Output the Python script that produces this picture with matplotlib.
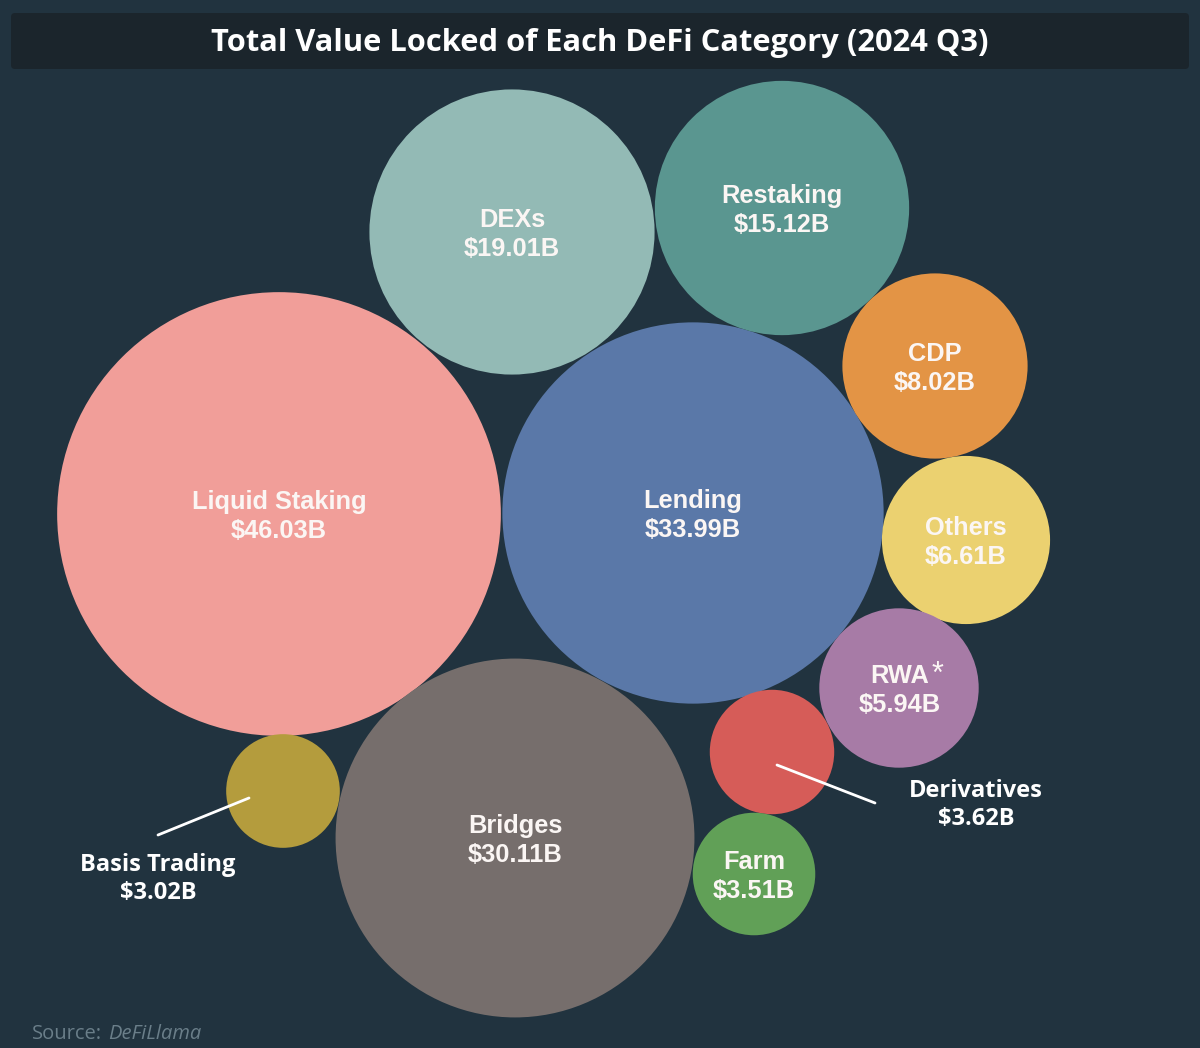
import matplotlib
matplotlib.use("Agg")
import matplotlib.pyplot as plt
from matplotlib.patches import Circle, FancyBboxPatch
import numpy as np

# ---- data ----
categories = ["Liquid Staking", "Lending", "Bridges", "DEXs", "Restaking", "CDP",
              "Others", "RWA", "Derivatives", "Farm", "Basis Trading"]
values = [46.03, 33.99, 30.11, 19.01, 15.12, 8.02, 6.61, 5.94, 3.62, 3.51, 3.02]
value_labels = ["$46.03B", "$33.99B", "$30.11B", "$19.01B", "$15.12B", "$8.02B",
                "$6.61B", "$5.94B", "$3.62B", "$3.51B", "$3.02B"]

# ---- layout / style ----
centers = [(279, 514), (693, 513), (515, 838), (512, 232), (782, 208), (935, 366),
           (966, 540), (899, 688), (772, 752), (754, 874), (283, 791)]
colors = ["#F19E99", "#5A78A8", "#766E6C", "#93BAB5", "#5A9690", "#E39445",
          "#EBD170", "#A77BA6", "#D65C58", "#61A057", "#B49C3D"]
outside = {"Derivatives": ((976, 805), (777, 765), (875, 803)),
           "Basis Trading": ((158, 879), (249, 798), (158, 835))}
SCALE = 32.7  # pixels per sqrt(billion)

BG = "#21333F"
W, H = 1200, 1048
fig = plt.figure(figsize=(W / 100, H / 100), dpi=100, facecolor=BG)
ax = fig.add_axes([0, 0, 1, 1])
ax.set_xlim(0, W)
ax.set_ylim(H, 0)
ax.set_aspect("equal")
ax.axis("off")
ax.set_facecolor(BG)

# title bar
ax.add_patch(FancyBboxPatch((11, 13), 1178, 56, boxstyle="round,pad=0,rounding_size=4",
                            facecolor="#1B252C", edgecolor="none"))
ax.text(600, 43, "Total Value Locked of Each DeFi Category (2024 Q3)", color="white",
        fontsize=22.2, fontweight="bold", family="Open Sans", ha="center", va="center")

inner_font = dict(family="Liberation Sans", fontweight="bold", fontsize=18.3, color="#FBF6F4")
outer_font = dict(family="Open Sans", fontweight="bold", fontsize=17, color="white")

for cat, val, lab, (cx, cy), col in zip(categories, values, value_labels, centers, colors):
    r = SCALE * np.sqrt(val)
    ax.add_patch(Circle((cx, cy), r, facecolor=col, edgecolor="none"))
    if cat in outside:
        (tx, ty), p1, p2 = outside[cat]
        ax.plot([p1[0], p2[0]], [p1[1], p2[1]], color="white", lw=2, solid_capstyle="round")
        ax.text(tx, ty - 14, cat, ha="center", va="center", **outer_font)
        ax.text(tx, ty + 14, lab, ha="center", va="center", **outer_font)
    elif cat == "RWA":
        ax.text(cx + 1, cy - 12, "RWA", ha="center", va="center", **inner_font)
        ax.text(cx + 39, cy - 13, "*", ha="center", va="center", family="Liberation Sans",
                fontsize=22, color="#FBF6F4")
        ax.text(cx + 1, cy + 17, lab, ha="center", va="center", **inner_font)
    else:
        ax.text(cx, cy - 12, cat, ha="center", va="center", **inner_font)
        ax.text(cx, cy + 17, lab, ha="center", va="center", **inner_font)

# source
ax.text(32, 1034, "Source:", color="#6A7E89", fontsize=14.5, family="Open Sans",
        ha="left", va="center")
ax.text(108, 1034, "DeFiLlama", color="#6A7E89", fontsize=14.5, family="Open Sans",
        style="italic", ha="left", va="center")

fig.savefig("out.png", dpi=100, facecolor=BG)
